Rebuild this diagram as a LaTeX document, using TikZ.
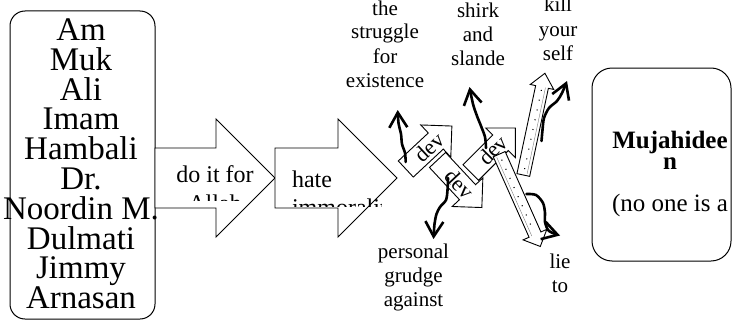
\documentclass[tikz,border=0pt]{standalone}
\usepackage{fontspec}
\setmainfont{Liberation Serif}
\usetikzlibrary{arrows.meta}
\setlength{\lineskiplimit}{-100pt}
% dev block arrow: x y (tail middle), angle, length, shaft width, head width, head length
\newcommand\DevArrow[7]{%
  \begin{scope}[shift={(#1,#2)},rotate=#3]
    \filldraw[blockline] (0,{-#5/2}) -- ({#4-#7},{-#5/2}) -- ({#4-#7},{-#6/2}) -- (#4,0)
      -- ({#4-#7},{#6/2}) -- ({#4-#7},{#5/2}) -- (0,{#5/2}) -- cycle;
  \end{scope}}
\newcommand\FlexArrow[7]{%
  \begin{scope}[shift={(#1,#2)},rotate=#3]
    \filldraw[blockline] (0,{-#5/2}) -- ({#4-#7},{-#5/2}) -- ({#4-#7},{-#6/2}) -- (#4,0)
      -- ({#4-#7},{#6/2}) -- ({#4-#7},{#5/2}) -- (0,{#5/2}) -- cycle;
    \draw[line width=0.4pt, gray] (2,{#5/2-3}) -- ({#4-#7},{#5/2-3});
    \draw[line width=1.1pt, dash pattern=on 1pt off 9pt] (6,0) -- ({#4-#7-3},0);
  \end{scope}}
\begin{document}
\begin{tikzpicture}[x=1pt,y=-1pt,
  blockline/.style={draw=black, fill=white, line width=0.9pt, line join=miter},
  roundbox/.style={draw=black, line width=1pt, inner sep=0pt, outer sep=0pt},
  listtext/.style={inner sep=0pt, outer sep=0pt, align=center, font=\fontsize{33}{29.8}\selectfont},
  arrowtext/.style={inner sep=0pt, outer sep=0pt, font=\fontsize{24}{28.8}\selectfont},
  righttext/.style={inner sep=0pt, outer sep=0pt, align=center, font=\fontsize{25}{21}\selectfont},
  lbltext/.style={inner sep=0pt, outer sep=0pt, align=center, font=\fontsize{21}{24}\selectfont},
  devtext/.style={inner sep=0pt, outer sep=0pt, font=\fontsize{22}{24}\selectfont},
  curly/.style={line width=2.6pt, line cap=round, line join=round, -{Straight Barb[length=15pt,width=18pt]}}]
\useasboundingbox (0,0) rectangle (733,321);
\fill[white] (0,0) rectangle (733,321);

% left box with names
\node[roundbox, rounded corners=15pt, minimum width=145pt, minimum height=308pt, anchor=north west] (names) at (10,11) {};
\node[listtext, anchor=north] (list) at (81,14.5) {\rule{0pt}{26pt}Am\\Muk\\Ali\\Imam\\Hambali\\Dr.\\Noordin M.\\Dulmati\\Jimmy\\Arnasan};

% big arrows
\filldraw[blockline] (155,148) -- (216,148) -- (216,119) -- (275,178) -- (216,237) -- (216,208) -- (155,208) -- cycle;
\filldraw[blockline] (275,148) -- (338,148) -- (338,119) -- (397,178) -- (338,237) -- (338,208) -- (275,208) -- cycle;
\begin{scope}
  \clip (156,149) rectangle (274,200.5);
  \node[arrowtext, align=center, anchor=north] (allah) at (215,162.5) {\rule{0pt}{20pt}do it for\\Allah};
\end{scope}
\begin{scope}
  \clip (276,149) rectangle (381,206.5);
  \node[arrowtext, align=left, anchor=north west] (immor) at (292,167) {\rule{0pt}{20pt}hate\\immorality};
\end{scope}

% dev arrows
\DevArrow{405.8}{169}{43}{63}{22}{44}{22}
\node[devtext, rotate=43] (devA) at (428.8,147.5) {dev};
\DevArrow{437.5}{160}{-47}{65}{22}{42}{21}
\node[devtext, rotate=-47] (devB) at (459.7,183.8) {dev};
\DevArrow{470.8}{172.5}{45}{63}{22}{42}{21}
\node[devtext, rotate=45] (devC) at (493.1,150.2) {dev};

% long thin arrows
\FlexArrow{499.2}{154.2}{-66}{101}{13}{26}{13}
\FlexArrow{523.3}{175}{78}{104}{13}{24}{14}

% labels
\node[lbltext, anchor=north] (lstruggle) at (385,-4) {\rule{0pt}{19pt}the\\struggle\\for\\existence};
\node[lbltext, anchor=north] (lshirk) at (478,-1) {\rule{0pt}{19pt}shirk\\and\\slande};
\node[lbltext, anchor=north] (lkill) at (558,-7) {\rule{0pt}{19pt}kill\\your\\self};
\node[lbltext, anchor=north] (lgrudge) at (413.5,239) {\rule{0pt}{19pt}personal\\grudge\\against};
\node[lbltext, anchor=north] (llie) at (560,249) {\rule{0pt}{19pt}lie\\to};

% curly connectors
\coordinate (c1s) at (405.7,162); \coordinate (c1e) at (397.7,110);
\coordinate (c2s) at (448,178);   \coordinate (c2e) at (433.5,239);
\coordinate (c3s) at (486,148);   \coordinate (c3e) at (469.5,87);
\coordinate (c4s) at (541.5,141); \coordinate (c4e) at (567,81);
\coordinate (c5s) at (526.5,194); \coordinate (c5e) at (560,235.5);
\draw[curly] plot[smooth] coordinates {(c1s) (405,153) (402,144) (401,134) (398.5,123) (c1e)};
\draw[curly] plot[smooth] coordinates {(c2s) (447.5,190) (446,200) (440,207) (436.5,214) (434.5,224) (c2e)};
\draw[curly] plot[smooth] coordinates {(c3s) (485,137) (481,126) (477,116) (473,104) (c3e)};
\draw[curly] plot[smooth] coordinates {(c4s) (542.5,130) (544,118) (549,108) (557,101) (562,93) (c4e)};
\draw[curly] plot[smooth] coordinates {(c5s) (536,195) (543,203) (545,213) (545,222) (549,231) (c5e)};

% right box
\node[roundbox, rounded corners=20pt, minimum width=139pt, minimum height=193pt, anchor=north west] (muj) at (592,68) {};
\node[righttext, anchor=north] (mujt) at (670,128) {\rule{0pt}{20pt}\textbf{Mujahidee}\\\textbf{n}\\[21pt](no one is a};
\end{tikzpicture}
\end{document}
